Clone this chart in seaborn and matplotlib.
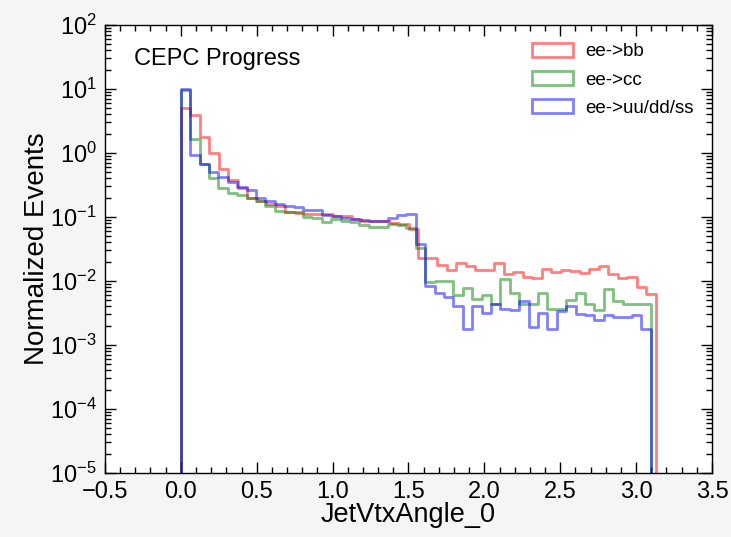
import numpy as np
import pandas as pd
import matplotlib
matplotlib.use("Agg")
import matplotlib.pyplot as plt
import seaborn as sns
from matplotlib.patches import Patch
from matplotlib.ticker import MultipleLocator, LogLocator, NullFormatter, FixedLocator

# ---- data (normalized events per bin, 50 bins from 0 to each sample's max) ----
samples = ["ee->bb", "ee->cc", "ee->uu/dd/ss"]
colors = ["red", "green", "blue"]
x_max = [3.128, 3.097, 3.097]
n_bins = 50

bb_vals = [5.0, 3.9, 1.8, 1.0, 0.57, 0.38, 0.28, 0.20, 0.18, 0.157,
           0.15, 0.118, 0.116, 0.112, 0.11, 0.11, 0.105, 0.103, 0.092, 0.088,
           0.087, 0.086, 0.081, 0.078, 0.066, 0.023, 0.023, 0.018, 0.0148, 0.0192,
           0.0172, 0.0150, 0.0146, 0.0192, 0.0130, 0.0137, 0.0115, 0.0110, 0.0153, 0.0138,
           0.0148, 0.0141, 0.0135, 0.0153, 0.0172, 0.0129, 0.0112, 0.0114, 0.0080, 0.0063]

cc_vals = [9.6, 1.67, 0.67, 0.41, 0.28, 0.24, 0.22, 0.20, 0.18, 0.15,
           0.125, 0.121, 0.121, 0.10, 0.097, 0.085, 0.092, 0.087, 0.085, 0.075,
           0.071, 0.071, 0.077, 0.074, 0.067, 0.033, 0.0095, 0.010, 0.010, 0.006,
           0.0077, 0.0053, 0.0061, 0.0044, 0.0107, 0.0066, 0.0044, 0.0044, 0.0066, 0.0036,
           0.0036, 0.0050, 0.0066, 0.0044, 0.0035, 0.0076, 0.0048, 0.0044, 0.0044, 0.0044]

uds_vals = [10.0, 0.92, 0.67, 0.50, 0.42, 0.35, 0.29, 0.26, 0.195, 0.18,
            0.16, 0.148, 0.145, 0.127, 0.128, 0.107, 0.103, 0.097, 0.092, 0.091,
            0.087, 0.087, 0.095, 0.107, 0.112, 0.0375, 0.0083, 0.0066, 0.0056, 0.0041,
            0.0018, 0.0041, 0.0032, 0.0044, 0.0037, 0.0035, 0.0049, 0.0019, 0.0032, 0.0018,
            0.0034, 0.0040, 0.0030, 0.0029, 0.0025, 0.0029, 0.0027, 0.0027, 0.0029, 0.0018]

series = [bb_vals, cc_vals, uds_vals]
x_ticks = [-0.5, 0.0, 0.5, 1.0, 1.5, 2.0, 2.5, 3.0, 3.5]

# ---- style ----
sns.set_theme(style="ticks")
plt.rcParams['font.family'] = ['Liberation Sans', 'DejaVu Sans']
plt.rcParams['mathtext.fontset'] = 'custom'
plt.rcParams['mathtext.rm'] = 'Liberation Sans'
plt.rcParams['mathtext.it'] = 'Liberation Sans:italic'
plt.rcParams['mathtext.bf'] = 'Liberation Sans:bold'
for key in ['text.color', 'axes.labelcolor', 'xtick.color', 'ytick.color', 'axes.edgecolor']:
    plt.rcParams[key] = 'black'

fig = plt.figure(figsize=(7.31, 5.37), dpi=100, facecolor='#f5f5f5')
ax = fig.add_axes([0.1436, 0.1192, 0.8304, 0.8342])
ax.set_facecolor('white')

for name, vals, xm, color in zip(samples, series, x_max, colors):
    edges = np.linspace(0, xm, n_bins + 1)
    w = edges[1] - edges[0]
    full_edges = np.concatenate([[-w], edges, [xm + w]])
    centers = 0.5 * (full_edges[:-1] + full_edges[1:])
    weights = np.concatenate([[0.0], np.asarray(vals, float), [0.0]])
    df = pd.DataFrame({"x": centers, "w": weights})
    sns.histplot(data=df, x="x", weights="w", bins=[float(e) for e in full_edges],
                 element="step", fill=False, color=color, alpha=0.5, linewidth=2, ax=ax)

ax.set_yscale('log')
ax.set_xlim(-0.5, 3.5)
ax.set_ylim(1e-5, 1e2)

ax.xaxis.set_major_locator(FixedLocator(x_ticks))
ax.xaxis.set_minor_locator(MultipleLocator(0.1))
ax.yaxis.set_major_locator(FixedLocator([10.0 ** k for k in range(-5, 3)]))
ax.yaxis.set_minor_locator(LogLocator(base=10, subs=np.arange(2, 10), numticks=20))
ax.yaxis.set_minor_formatter(NullFormatter())

ax.tick_params(which='both', direction='in', top=True, right=True, width=1, color='black')
ax.tick_params(which='major', length=8, labelsize=17, pad=6)
ax.tick_params(which='minor', length=4)
for s in ax.spines.values():
    s.set_visible(True)
    s.set_color('black')
    s.set_linewidth(1)

ax.set_xlabel("JetVtxAngle_0", fontsize=19.5, labelpad=-1)
ax.set_ylabel("Normalized Events", fontsize=20, labelpad=0)

ax.text(0.048, 0.925, "CEPC Progress", transform=ax.transAxes,
        fontsize=17, ha='left', va='center')

handles = [Patch(facecolor='none', edgecolor=c, alpha=0.5, linewidth=2) for c in colors]
ax.legend(handles, samples, loc='upper right', frameon=False, fontsize=13.5,
          handlelength=2.15, handleheight=0.75, labelspacing=0.58,
          borderaxespad=0.55, handletextpad=0.7)

fig.savefig("out.png", dpi=100, facecolor=fig.get_facecolor())
